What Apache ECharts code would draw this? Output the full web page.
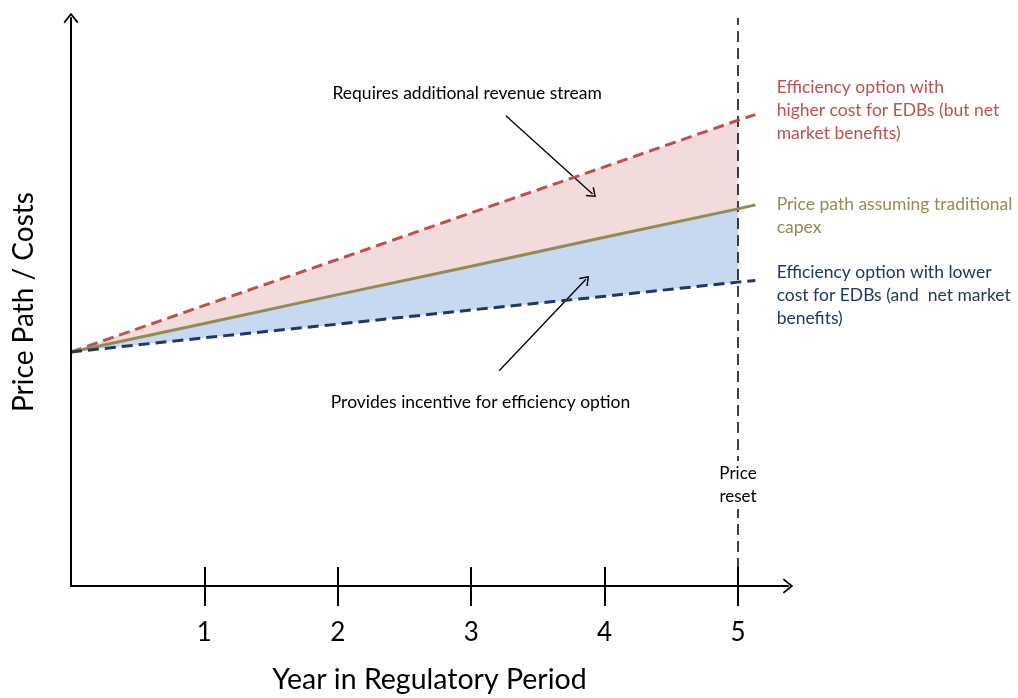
<!DOCTYPE html>
<html>
<head>
<meta charset="utf-8">
<script src="https://cdn.jsdelivr.net/npm/echarts@6/dist/echarts.min.js"></script>
<style>
  html, body { margin: 0; padding: 0; background: #fff; }
  #chart { width: 1018px; height: 698px; }
</style>
</head>
<body>
<div id="chart"></div>
<script>
// Years in the regulatory period (0 = start, 5 = price reset), plus a short run past the reset
const years = [0, 1, 2, 3, 4, 5];
const yearEnd = 5.13;
const tickYears = [1, 2, 3, 4, 5];

// Price / cost index paths
const higherCostPath = [41.2, 49.4, 57.5, 65.7, 73.8, 82.0];
const higherCostEnd = 83.0;
const traditionalPath = [41.2, 46.2, 51.3, 56.3, 61.4, 66.4];
const traditionalEnd = 67.1;
const lowerCostPath = [41.2, 43.7, 46.1, 48.6, 51.0, 53.5];
const lowerCostEnd = 53.8;

const FONT = 'Lato, "Open Sans", sans-serif';
const RED = '#C0504D';
const GOLD = '#948A54';
const NAVY = '#1F3864';
const PINK_FILL = '#F2DCDB';
const BLUE_FILL = '#C6D9F1';

// open chevron used as arrow heads
const CHEVRON = 'path://M50,0 L100,62 L91,70 L50,19 L9,70 L0,62 Z';

const pairs = (xs, ys) => xs.map((x, i) => [x, ys[i]]);
const withEnd = (ys, end) => pairs(years, ys).concat([[yearEnd, end]]);

const chart = echarts.init(document.getElementById('chart'), null, { renderer: 'canvas' });

const xTicksOutside = {
  type: 'value', min: 0, max: 5.375, position: 'bottom', z: 10,
  axisLine: {
    show: true, onZero: false,
    symbol: ['none', CHEVRON], symbolSize: [15, 11],
    lineStyle: { color: '#000', width: 2 }
  },
  axisTick: { show: true, customValues: tickYears, length: 20, lineStyle: { color: '#000', width: 2 } },
  axisLabel: { show: true, customValues: tickYears, margin: 34, fontSize: 26, color: '#000', fontFamily: FONT },
  splitLine: { show: false },
  name: 'Year in Regulatory Period', nameLocation: 'middle', nameGap: 79,
  nameTextStyle: { fontSize: 28.5, color: '#000', fontFamily: FONT }
};
const xTicksInside = {
  type: 'value', min: 0, max: 5.375, position: 'bottom', z: 10,
  axisLine: { show: false },
  axisTick: { show: true, inside: true, customValues: tickYears, length: 19, lineStyle: { color: '#000', width: 2 } },
  axisLabel: { show: false },
  splitLine: { show: false }
};

// invisible anchor carrying a text label at a data coordinate
const textLabel = (coord, text, color, align) => ({
  coord: coord,
  symbol: 'circle', symbolSize: 1,
  itemStyle: { color: 'rgba(0,0,0,0)' },
  label: {
    show: true, position: 'inside', formatter: text, color: color,
    fontSize: 17.5, lineHeight: 23, fontFamily: FONT, align: align || 'center', verticalAlign: 'middle'
  }
});

// a path filled down to the x axis, used to build the shaded bands
const filledPath = (ys, fill, z) => ({
  type: 'line', data: pairs(years, ys), symbol: 'none', silent: true, z: z,
  lineStyle: { opacity: 0 }, areaStyle: { color: fill, opacity: 1 }
});

chart.setOption({
  animation: false,
  backgroundColor: '#fff',
  grid: { left: 71, right: 230, top: 18, bottom: 112, containLabel: false, outerBoundsMode: 'none' },
  xAxis: [xTicksOutside, xTicksInside],
  yAxis: {
    type: 'value', min: 0, max: 100, z: 10,
    axisLine: {
      show: true, onZero: false,
      symbol: ['none', CHEVRON], symbolSize: [15, 11],
      lineStyle: { color: '#000', width: 2 }
    },
    axisTick: { show: false },
    axisLabel: { show: false },
    splitLine: { show: false },
    name: 'Price Path / Costs', nameLocation: 'middle', nameGap: 33, nameRotate: 90,
    nameTextStyle: { fontSize: 28, color: '#000', fontFamily: FONT }
  },
  series: [
    // shaded bands between the paths (up to the price reset)
    filledPath(higherCostPath, PINK_FILL, 1),
    filledPath(traditionalPath, BLUE_FILL, 1.1),
    filledPath(lowerCostPath, '#fff', 1.2),
    // price reset marker and notes
    {
      type: 'line', data: [], clip: false, z: 2,
      markLine: {
        silent: true, symbol: 'none', animation: false,
        lineStyle: { color: '#000', width: 1.5, type: [11, 6] },
        label: { show: false },
        data: [[{ coord: [5, 0] }, { coord: [5, 100] }]]
      }
    },
    {
      type: 'line', data: [], clip: false, z: 3,
      markPoint: {
        silent: true, animation: false,
        data: [
          {
            coord: [5, 17.8], symbol: 'rect', symbolSize: [46, 48],
            itemStyle: { color: '#fff' },
            label: {
              show: true, position: 'inside', formatter: 'Price\nreset', color: '#000',
              fontSize: 17, lineHeight: 23, fontFamily: FONT
            }
          },
          textLabel([2.97, 86.8], 'Requires additional revenue stream', '#000'),
          textLabel([3.07, 32.4], 'Provides incentive for efficiency option', '#000'),
          textLabel([5.29, 83.8], 'Efficiency option with\nhigher cost for EDBs (but net\nmarket benefits)', RED, 'left'),
          textLabel([5.29, 65.1], 'Price path assuming traditional\ncapex', GOLD, 'left'),
          textLabel([5.29, 51.2], 'Efficiency option with lower\ncost for EDBs (and  net market\nbenefits)', NAVY, 'left')
        ]
      }
    },
    {
      type: 'line', data: [], clip: false, z: 6,
      markLine: {
        silent: true, animation: false,
        symbol: ['none', CHEVRON], symbolSize: [12, 9],
        lineStyle: { color: '#000', width: 1.3, type: 'solid' },
        label: { show: false },
        data: [
          [{ coord: [3.26, 82.8] }, { coord: [3.91, 69.0] }],
          [{ coord: [3.21, 37.9] }, { coord: [3.86, 54.0] }]
        ]
      }
    },
    // the three price paths
    {
      name: 'Higher cost', type: 'line', data: withEnd(higherCostPath, higherCostEnd),
      symbol: 'none', z: 5, lineStyle: { color: RED, width: 3, type: [11, 6] }
    },
    {
      name: 'Traditional', type: 'line', data: withEnd(traditionalPath, traditionalEnd),
      symbol: 'none', z: 5, lineStyle: { color: GOLD, width: 3 }
    },
    {
      name: 'Lower cost', type: 'line', data: withEnd(lowerCostPath, lowerCostEnd),
      symbol: 'none', z: 5, lineStyle: { color: NAVY, width: 3, type: [11, 6] }
    }
  ]
});
</script>
</body>
</html>
